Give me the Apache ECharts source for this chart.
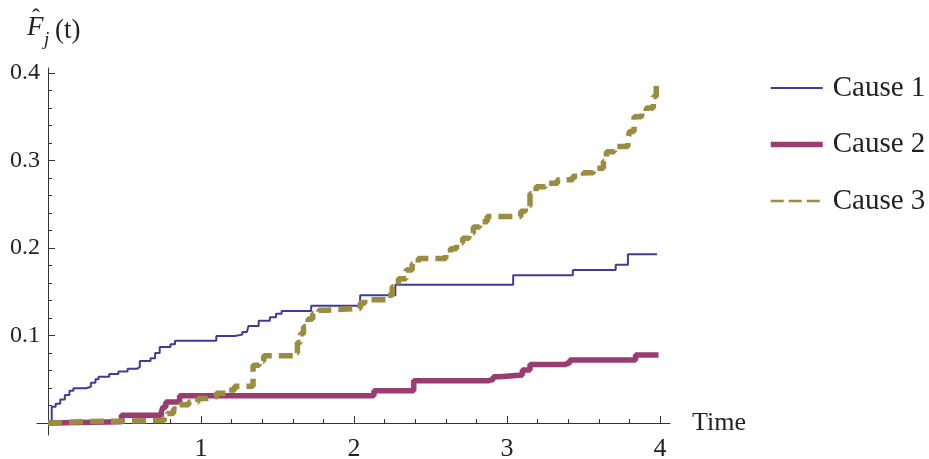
<!DOCTYPE html>
<html>
<head>
<meta charset="utf-8">
<script src="https://cdn.jsdelivr.net/npm/echarts@6/dist/echarts.min.js"></script>
<style>
html,body{margin:0;padding:0;background:#fff;}
#c{width:929px;height:459px;}
</style>
</head>
<body>
<div id="c"></div>
<script>
// Series data: [time, F_hat] — step points (jump time, new value)
var cause1 = [[0,0],[0.024,0.0186],[0.05,0.022],[0.08,0.027],[0.11,0.032],[0.14,0.037],[0.166,0.0397],[0.25,0.0415],[0.28,0.046],[0.31,0.05],[0.33,0.053],[0.40,0.056],[0.46,0.059],[0.52,0.062],[0.58,0.064],[0.60,0.071],[0.67,0.074],[0.70,0.080],[0.73,0.087],[0.80,0.090],[0.83,0.094],[1.10,0.0994],[1.22,0.101],[1.27,0.104],[1.30,0.106],[1.31,0.111],[1.377,0.117],[1.45,0.121],[1.49,0.125],[1.527,0.128],[1.72,0.134],[2.04,0.146],[2.27,0.158],[3.04,0.169],[3.43,0.175],[3.71,0.181],[3.79,0.193],[3.98,0.193]];
var cause2 = [[0,0],[0.02,0.0015],[0.48,0.0088],[0.74,0.012],[0.75,0.018],[0.77,0.024],[0.86,0.0312],[2.13,0.037],[2.39,0.0484],[2.88,0.05],[2.91,0.053],[2.95,0.055],[3.10,0.0606],[3.15,0.067],[3.38,0.069],[3.41,0.072],[3.84,0.0777],[3.99,0.0777]];
var cause3 = [[0,0],[0.02,0.0015],[0.22,0.003],[0.76,0.006],[0.78,0.011],[0.82,0.016],[0.86,0.021],[0.92,0.024],[0.98,0.028],[1.04,0.030],[1.10,0.034],[1.17,0.0377],[1.22,0.042],[1.34,0.066],[1.38,0.071],[1.41,0.077],[1.60,0.080],[1.63,0.092],[1.65,0.102],[1.67,0.110],[1.70,0.119],[1.73,0.125],[1.77,0.129],[1.82,0.131],[2.04,0.137],[2.07,0.141],[2.22,0.146],[2.25,0.156],[2.29,0.165],[2.34,0.175],[2.38,0.182],[2.42,0.188],[2.60,0.193],[2.63,0.199],[2.67,0.206],[2.71,0.211],[2.75,0.217],[2.78,0.224],[2.82,0.230],[2.87,0.236],[3.09,0.242],[3.12,0.248],[3.15,0.262],[3.19,0.270],[3.25,0.274],[3.33,0.278],[3.43,0.282],[3.50,0.286],[3.565,0.291],[3.63,0.299],[3.65,0.310],[3.70,0.316],[3.79,0.324],[3.80,0.333],[3.83,0.350],[3.88,0.356],[3.91,0.360],[3.956,0.373],[3.975,0.386],[3.98,0.386]];

var seriesNames = ['Cause 1','Cause 2','Cause 3'];
var xMajorTicks = [1,2,3,4];
var xMinorTicks = [0.2,0.4,0.6,0.8,1.2,1.4,1.6,1.8,2.2,2.4,2.6,2.8,3.2,3.4,3.6,3.8];
var yMajorTicks = [0.1,0.2,0.3,0.4];
var yMinorTicks = [0.02,0.04,0.06,0.08,0.12,0.14,0.16,0.18,0.22,0.24,0.26,0.28,0.32,0.34,0.36,0.38];
var xName = 'Time';

var colors = ['#3d3d99','#993d71','#9a8d42'];
var serif = '"Liberation Serif","DejaVu Serif",serif';
var axisColor = '#333';
var xMin = -0.072, xMax = 4.065, yMin = -0.0137, yMax = 0.4057;
var hiddenSymbol = {opacity: 0, color: 'rgba(0,0,0,0)', borderWidth: 0};

var chart = echarts.init(document.getElementById('c'), null, {renderer:'canvas'});
chart.setOption({
  animation: false,
  backgroundColor: '#fff',
  grid: {left: 37, right: 259, top: 68, bottom: 24, containLabel: false, outerBoundsMode: 'none'},
  legend: {
    orient: 'vertical', left: 763, top: 68,
    itemWidth: 52, itemHeight: 14, itemGap: 26.5,
    textStyle: {fontFamily: serif, fontSize: 29, color: '#222', lineHeight: 30, padding: [0,0,0,5]},
    itemStyle: hiddenSymbol,
    data: [
      {name: seriesNames[0], itemStyle: hiddenSymbol, lineStyle: {width: 2, color: colors[0], type: 'solid', opacity: 1}},
      {name: seriesNames[1], itemStyle: hiddenSymbol, lineStyle: {width: 5.5, color: colors[1], type: 'solid', opacity: 1}},
      {name: seriesNames[2], itemStyle: hiddenSymbol, lineStyle: {width: 2.5, color: colors[2], type: [13,5], opacity: 1}}
    ]
  },
  xAxis: [{
    type: 'value', min: xMin, max: xMax, position: 'bottom',
    name: xName, nameLocation: 'end', nameGap: 22,
    nameTextStyle: {fontFamily: serif, fontSize: 26, color: '#222', verticalAlign: 'middle', padding: [6,0,0,0]},
    axisLine: {show: true, onZero: true, lineStyle: {color: axisColor, width: 1}},
    axisTick: {show: true, inside: true, length: 7, customValues: xMajorTicks, lineStyle: {color: axisColor}},
    axisLabel: {show: true, customValues: xMajorTicks, margin: 1, fontFamily: serif, fontSize: 26, color: '#222'},
    splitLine: {show: false}
  }, {
    type: 'value', min: xMin, max: xMax, position: 'bottom',
    axisLine: {show: false, onZero: true},
    axisTick: {show: true, inside: true, length: 4, customValues: xMinorTicks, lineStyle: {color: axisColor}},
    axisLabel: {show: false},
    splitLine: {show: false}
  }],
  yAxis: [{
    type: 'value', min: yMin, max: yMax, position: 'left',
    axisLine: {show: true, onZero: true, lineStyle: {color: axisColor, width: 1}},
    axisTick: {show: true, inside: true, length: 7, customValues: yMajorTicks, lineStyle: {color: axisColor}},
    axisLabel: {show: true, customValues: yMajorTicks, margin: -3, fontFamily: serif, fontSize: 24, color: '#222'},
    splitLine: {show: false}
  }, {
    type: 'value', min: yMin, max: yMax, position: 'left',
    axisLine: {show: false, onZero: true},
    axisTick: {show: true, inside: true, length: 4, customValues: yMinorTicks, lineStyle: {color: axisColor}},
    axisLabel: {show: false},
    splitLine: {show: false}
  }],
  graphic: [
    {type: 'text', left: 27, top: 14, style: {text: 'F', font: 'italic 27px ' + serif, fill: '#222'}},
    {type: 'text', left: 32, top: 7, style: {text: '\u02C6', font: '24px ' + serif, fill: '#222'}},
    {type: 'text', left: 44, top: 30, style: {text: 'j', font: 'italic 19px ' + serif, fill: '#222'}},
    {type: 'text', left: 55, top: 17, style: {text: '(t)', font: '27px ' + serif, fill: '#222'}}
  ],
  series: [
    {name: seriesNames[0], type: 'line', step: 'end', data: cause1, symbol: 'none', showSymbol: false,
     lineStyle: {color: colors[0], width: 2}, itemStyle: {color: colors[0]}, z: 4},
    {name: seriesNames[1], type: 'line', step: 'end', data: cause2, symbol: 'none', showSymbol: false,
     lineStyle: {color: colors[1], width: 5.5}, itemStyle: {color: colors[1]}, z: 3},
    {name: seriesNames[2], type: 'line', step: 'end', data: cause3, symbol: 'none', showSymbol: false,
     lineStyle: {color: colors[2], width: 5.5, type: [14,7]}, itemStyle: {color: colors[2]}, z: 5}
  ]
});
</script>
</body>
</html>
